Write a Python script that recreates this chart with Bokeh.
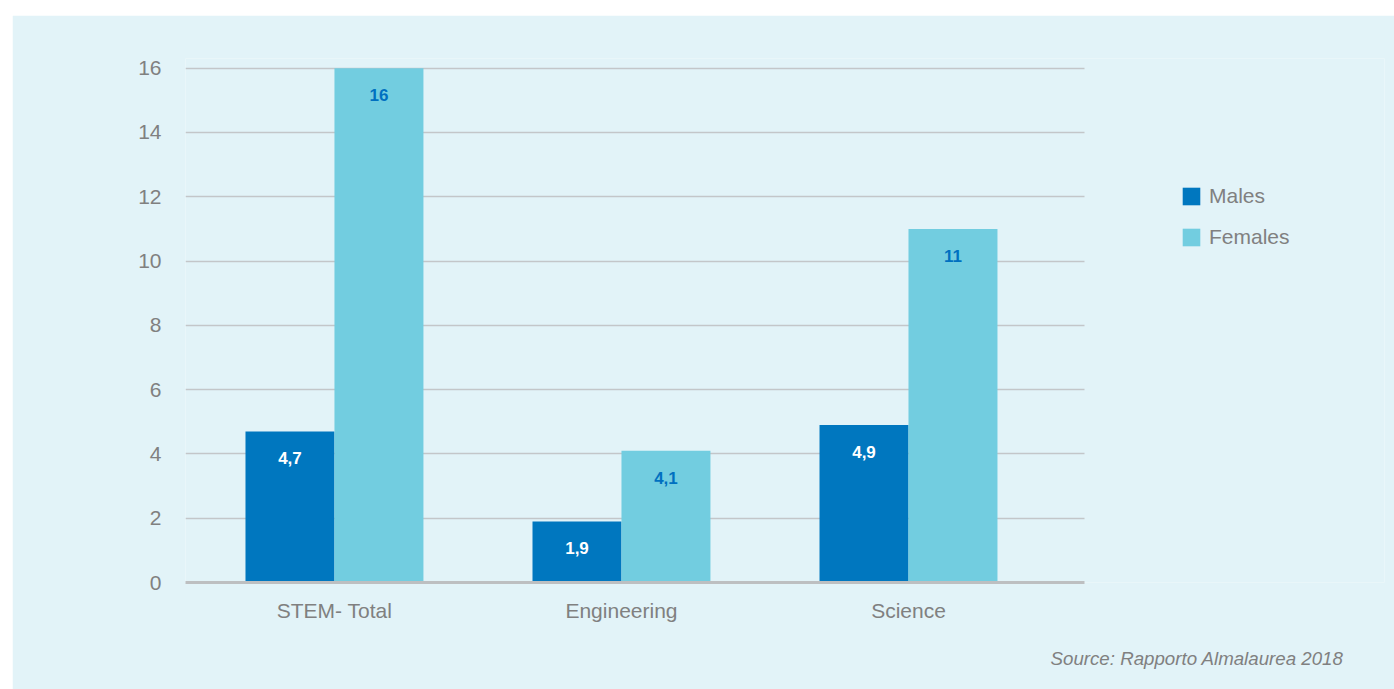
from bokeh.plotting import figure
from bokeh.models import ColumnDataSource, FixedTicker, Legend, LegendItem, Title, Grid
from bokeh.layouts import column
from bokeh.embed import file_html
from bokeh.resources import INLINE
from bokeh.core.properties import value

categories = ["STEM- Total", "Engineering", "Science"]
males = [4.7, 1.9, 4.9]
females = [16, 4.1, 11]
males_labels = ["4,7", "1,9", "4,9"]
females_labels = ["16", "4,1", "11"]
y_ticks = [0, 2, 4, 6, 8, 10, 12, 14, 16]

PANEL = "#e2f3f8"
C_M = "#0077bf"
C_F = "#72cde0"
GRAY = "#808080"
GRID = "#c3c6c9"
FONT = "Liberation Sans"

X_START = -0.519      # left end of the chart area
X_AXIS_END = 2.613    # right end of the axis / grid lines
X_END = 3.6585        # frame extends to the right to host the legend

xs = list(range(len(categories)))
bw = 0.31
src = ColumnDataSource(dict(
    xm=[x - bw / 2 for x in xs], xf=[x + bw / 2 for x in xs],
    m=males, f=females, ml=males_labels, fl=females_labels,
))

p = figure(width=1382, height=674, output_backend="svg", toolbar_location=None,
           x_range=(X_START, X_END), y_range=(0, 16.3),
           min_border_left=173, min_border_right=10, min_border_top=43, min_border_bottom=107)
p.background_fill_color = PANEL
p.border_fill_color = PANEL
p.outline_line_color = None

p.xgrid.grid_line_color = None
if "cross_bounds" in Grid.properties():
    p.ygrid.grid_line_color = GRID
    p.ygrid.grid_line_width = 1.5
    p.ygrid.ticker = FixedTicker(ticks=y_ticks[1:])
    p.ygrid.cross_bounds = (X_START, X_AXIS_END)
else:
    p.ygrid.grid_line_color = None
    gy = y_ticks[1:]
    p.segment(x0=[X_START] * len(gy), x1=[X_AXIS_END] * len(gy), y0=gy, y1=gy,
              line_color=GRID, line_width=1.5, level="underlay")

rm = p.vbar(x="xm", top="m", width=bw, source=src, fill_color=C_M, line_color=None)
rf = p.vbar(x="xf", top="f", width=bw, source=src, fill_color=C_F, line_color=None)

p.text(x="xm", y="m", text="ml", source=src, text_color="white", text_font=value(FONT),
       text_font_style="bold", text_font_size="17px", text_align="center",
       text_baseline="middle", y_offset=27)
p.text(x="xf", y="f", text="fl", source=src, text_color="#0070c0", text_font=value(FONT),
       text_font_style="bold", text_font_size="17px", text_align="center",
       text_baseline="middle", y_offset=27)

p.yaxis.ticker = FixedTicker(ticks=y_ticks)
p.yaxis.axis_line_color = None
p.yaxis.major_tick_line_color = None
p.yaxis.minor_tick_line_color = None
p.yaxis.major_label_text_color = GRAY
p.yaxis.major_label_text_font = FONT
p.yaxis.major_label_text_font_size = "21px"
p.yaxis.major_label_standoff = 18

p.xaxis.ticker = FixedTicker(ticks=xs)
p.xaxis.bounds = (X_START, X_AXIS_END)
p.xaxis.major_label_overrides = {i: c for i, c in enumerate(categories)}
p.xaxis.axis_line_color = "#bdbfc1"
p.xaxis.axis_line_width = 3
p.xaxis.major_tick_line_color = None
p.xaxis.minor_tick_line_color = None
p.xaxis.major_label_text_color = GRAY
p.xaxis.major_label_text_font = FONT
p.xaxis.major_label_text_font_size = "21px"
p.xaxis.major_label_standoff = 10

legend = Legend(items=[LegendItem(label="Males", renderers=[rm]),
                       LegendItem(label="Females", renderers=[rf])],
                location=(995, 333), orientation="vertical", margin=0, padding=10,
                glyph_width=22, glyph_height=22, label_height=18, spacing=17,
                label_text_font=FONT, label_text_font_size="21px", label_text_color=GRAY,
                label_standoff=7,
                background_fill_alpha=0, border_line_color=None)
p.add_layout(legend, "center")

source_title = Title(text="Source: Rapporto Almalaurea 2018", align="right", offset=41,
                     text_font=FONT, text_font_style="italic", text_font_size="18.7px",
                     text_color=GRAY, standoff=42)
p.add_layout(source_title, "below")

layout = column(p, styles={"background-color": "white", "padding-top": "15px", "padding-left": "12px"})

open("out.html", "w").write(file_html(layout, INLINE))
